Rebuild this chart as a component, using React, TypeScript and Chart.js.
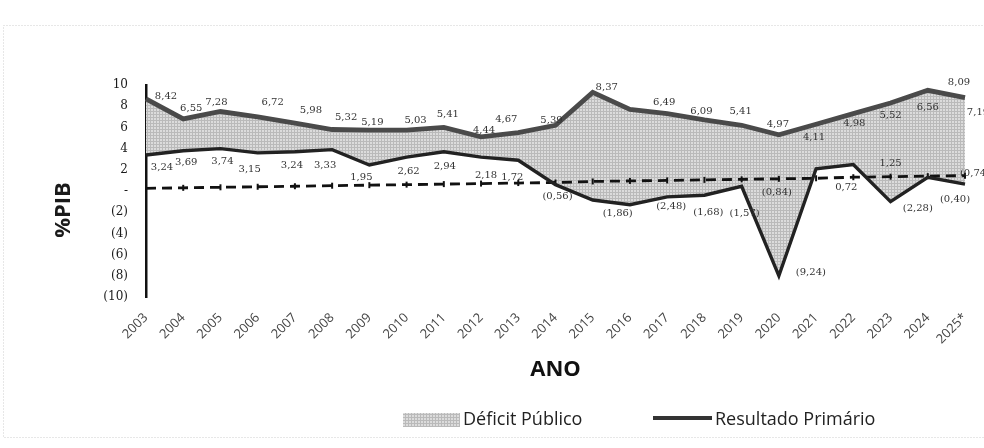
import React, { useEffect, useRef } from 'react';
import { Chart, registerables } from 'chart.js';

Chart.register(...registerables);

// ---- data ----
const years = ['2003','2004','2005','2006','2007','2008','2009','2010','2011','2012','2013','2014','2015','2016','2017','2018','2019','2020','2021','2022','2023','2024','2025*'];
// upper edge of the shaded "Déficit Público" band
const deficitUpper = [8.7, 6.8, 7.5, 7.0, 6.4, 5.8, 5.75, 5.75, 6.0, 5.1, 5.5, 6.2, 9.3, 7.7, 7.3, 6.7, 6.2, 5.3, 6.3, 7.3, 8.3, 9.5, 8.8];
// "Resultado Primário" line
const primaryResult = [3.4, 3.8, 4.0, 3.6, 3.7, 3.9, 2.45, 3.2, 3.7, 3.2, 2.9, 0.6, -0.85, -1.3, -0.55, -0.4, 0.45, -8.0, 2.1, 2.5, -1.0, 1.3, 0.65];
// dashed reference line
const dashedLine = [0.25, 0.3, 0.35, 0.4, 0.45, 0.5, 0.55, 0.6, 0.65, 0.7, 0.75, 0.8, 0.9, 0.95, 1.0, 1.05, 1.1, 1.15, 1.2, 1.3, 1.35, 1.4, 1.45];

const upperLabels = ['8,42','6,55','7,28','6,72','5,98','5,32','5,19','5,03','5,41','4,44','4,67','5,39','8,37','','6,49','6,09','5,41','4,97','4,11','4,98','5,52','6,56','8,09'];
const primaryLabels = ['3,24','3,69','3,74','3,15','3,24','3,33','1,95','2,62','2,94','2,18','1,72','(0,56)','(1,86)','','(2,48)','(1,68)','(1,57)','(9,24)','','0,72','1,25','(2,28)','(0,40)'];
const extraUpperLabel = { index: 22, text: '7,19' };
const extraPrimaryLabels = [
  { index: 17, text: '(0,84)' },
  { index: 22, text: '(0,74)' },
];

const yTickValues = [-10, -8, -6, -4, -2, 0, 2, 4, 6, 8, 10];

// label placement offsets (pixels, relative to the point)
const upperOffsets = [[20,-2],[8,-11],[-4,-9],[15,-14],[16,-13],[14,-12],[3,-8],[9,-10],[4,-13],[3,-7],[-12,-13],[-4,-5],[14,-5],[0,0],[-3,-11],[-3,-9],[-1,-14],[-1,-10],[-2,13],[1,10],[0,12],[0,17],[-6,-15]];
const primaryOffsets = [[16,12],[3,12],[2,13],[-8,17],[-3,14],[-7,16],[-8,12],[2,14],[1,15],[5,18],[-6,17],[2,12],[25,13],[0,0],[4,10],[4,17],[3,27],[32,-3],[0,0],[-7,23],[0,-38],[-10,31],[-10,15]];
const extraUpperOffset = [13, 15];
const extraPrimaryOffsets = [[-2,-83],[10,-11]];

function makePattern(ctx: CanvasRenderingContext2D) {
  const c = document.createElement('canvas');
  c.width = 3; c.height = 3;
  const p = c.getContext('2d')!;
  p.fillStyle = '#dcdcdc';
  p.fillRect(0, 0, 3, 3);
  p.fillStyle = '#bababa';
  p.fillRect(0, 0, 3, 1);
  p.fillRect(0, 0, 1, 3);
  return ctx.createPattern(c, 'repeat')!;
}

const fmtTick = (v: number) => (v === 0 ? '-' : v < 0 ? `(${-v})` : `${v}`);

export default function App() {
  const ref = useRef<HTMLCanvasElement | null>(null);

  useEffect(() => {
    document.body.style.margin = '0';
    const canvas = ref.current!;
    const ctx = canvas.getContext('2d')!;
    const pattern = makePattern(ctx);

    const decor = {
      id: 'decor',
      beforeDraw(chart: any) {
        const c = chart.ctx;
        c.save();
        c.strokeStyle = '#cfcfcf';
        c.lineWidth = 1;
        c.setLineDash([1, 2]);
        c.strokeRect(3.5, 25.5, chart.width + 5, 412);
        c.restore();
      },
      afterDatasetsDraw(chart: any) {
        const c = chart.ctx;
        c.save();
        c.font = "10px 'DejaVu Serif'";
        c.fillStyle = '#333';
        c.textAlign = 'center';
        c.textBaseline = 'middle';
        const up = chart.getDatasetMeta(0).data;
        const pr = chart.getDatasetMeta(1).data;
        upperLabels.forEach((t, i) => {
          if (!t) return;
          const p = up[i];
          c.fillText(t, p.x + upperOffsets[i][0], p.y + upperOffsets[i][1]);
        });
        primaryLabels.forEach((t, i) => {
          if (!t) return;
          const p = pr[i];
          c.fillText(t, p.x + primaryOffsets[i][0], p.y + primaryOffsets[i][1]);
        });
        {
          const p = up[extraUpperLabel.index];
          c.fillText(extraUpperLabel.text, p.x + extraUpperOffset[0], p.y + extraUpperOffset[1]);
        }
        extraPrimaryLabels.forEach((l, k) => {
          const p = pr[l.index];
          c.fillText(l.text, p.x + extraPrimaryOffsets[k][0], p.y + extraPrimaryOffsets[k][1]);
        });
        c.restore();
      },
      afterDraw(chart: any) {
        const c = chart.ctx;
        const area = chart.chartArea;
        c.save();
        // y-axis title
        c.translate(64, (area.top + area.bottom) / 2 + 19);
        c.rotate(-Math.PI / 2);
        c.font = "bold 22px 'Open Sans'";
        c.fillStyle = '#1a1a1a';
        c.textAlign = 'center';
        c.textBaseline = 'middle';
        c.fillText('%PIB', 0, 0);
        c.restore();

        // legend
        c.save();
        const ly = 420;
        const x0 = 403;
        c.fillStyle = pattern;
        c.fillRect(x0, ly - 7, 57, 14);
        c.font = "18px 'Open Sans'";
        c.fillStyle = '#222';
        c.textAlign = 'left';
        c.textBaseline = 'middle';
        c.fillText('Déficit Público', x0 + 60, ly);
        const x1 = 653;
        c.strokeStyle = '#333';
        c.lineWidth = 4;
        c.beginPath();
        c.moveTo(x1, ly - 2);
        c.lineTo(x1 + 59, ly - 2);
        c.stroke();
        c.fillText('Resultado Primário', x1 + 62, ly);
        c.restore();
      },
    };

    const chart = new Chart(ctx, {
      type: 'line',
      data: {
        labels: years,
        datasets: [
          {
            label: 'Déficit Público',
            data: deficitUpper,
            borderColor: '#4a4a4a',
            borderWidth: 4.8,
            backgroundColor: pattern as any,
            fill: '+1',
            pointRadius: 0,
            tension: 0,
          },
          {
            label: 'Resultado Primário',
            data: primaryResult,
            borderColor: '#222',
            borderWidth: 3.4,
            backgroundColor: '#222',
            fill: false,
            pointRadius: 0,
            tension: 0,
          },
          {
            label: 'Referência',
            data: dashedLine,
            borderColor: '#111',
            borderWidth: 2.8,
            borderDash: [10, 6],
            fill: false,
            pointStyle: 'line',
            pointRadius: 3,
            pointRotation: 90,
            pointBorderWidth: 2,
            pointBorderColor: '#111',
            tension: 0,
          },
        ],
      },
      options: {
        responsive: false,
        animation: false,
        events: [],
        layout: { padding: { top: 85, right: 19, left: 0, bottom: 0 } },
        plugins: {
          legend: { display: false },
          tooltip: { enabled: false },
          filler: { drawTime: 'beforeDatasetsDraw' } as any,
        },
        scales: {
          x: {
            type: 'category',
            offset: false,
            grid: { display: false, drawTicks: false },
            border: { display: false },
            ticks: {
              autoSkip: false,
              minRotation: 45,
              maxRotation: 45,
              padding: 13,
              color: '#444',
              font: { family: 'Open Sans', size: 13 },
            },
            title: {
              display: true,
              text: 'ANO',
              color: '#111',
              font: { family: 'Open Sans', size: 22, weight: 'bold' },
              padding: { top: 0, bottom: 65 },
            },
            afterFit: (s: any) => { s.height = 151; s.paddingRight = 0; s.paddingLeft = 0; },
          },
          y: {
            min: -10,
            max: 10,
            grid: { display: false, drawTicks: false },
            border: { display: true, color: '#111', width: 2.5 },
            afterBuildTicks: (s: any) => { s.ticks = yTickValues.map((v) => ({ value: v })); },
            ticks: {
              padding: 18,
              color: '#1a1a1a',
              font: { family: 'DejaVu Serif', size: 12 },
              callback: (v: any) => fmtTick(Number(v)),
            },
            afterFit: (s: any) => { s.width = 146; },
          },
        },
      },
      plugins: [decor],
    });

    return () => chart.destroy();
  }, []);

  return (
    <div style={{ position: 'fixed', left: 0, top: 0, width: 984, height: 448, background: '#fff' }}>
      <canvas ref={ref} width={984} height={448} />
    </div>
  );
}
